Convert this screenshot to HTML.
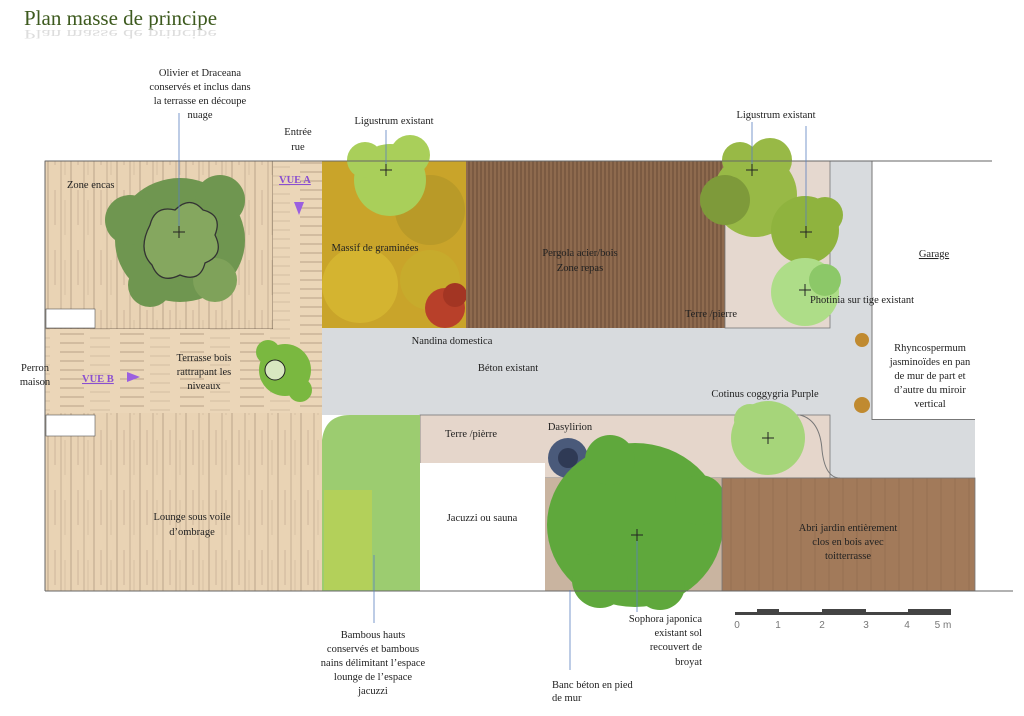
<!DOCTYPE html>
<html><head><meta charset="utf-8"><style>
html,body{margin:0;padding:0;background:#fff}
svg{display:block}
text{font-family:"Liberation Serif",serif;font-size:10.5px;fill:#222}
</style></head><body>
<svg width="1024" height="716" viewBox="0 0 1024 716" xmlns="http://www.w3.org/2000/svg">
<defs>
<pattern id="vp" width="23" height="60" patternUnits="userSpaceOnUse"><rect width="23" height="60" fill="#e9d3b4"/><line x1="2" y1="0" x2="2" y2="60" stroke="#8a735e" stroke-width="0.7" opacity="0.7"/><line x1="9" y1="10" x2="9" y2="45" stroke="#8a735e" stroke-width="0.5" opacity="0.6"/><line x1="15" y1="0" x2="15" y2="60" stroke="#8a735e" stroke-width="0.6" opacity="0.6"/><line x1="19" y1="20" x2="19" y2="55" stroke="#8a735e" stroke-width="0.4" opacity="0.5"/></pattern>
<pattern id="hp" width="60" height="9" patternUnits="userSpaceOnUse"><rect width="60" height="9" fill="#ebd6b8"/><line x1="0" y1="1" x2="24" y2="1" stroke="#8a735e" stroke-width="0.7" opacity="0.7"/><line x1="30" y1="5" x2="50" y2="5" stroke="#8a735e" stroke-width="0.5" opacity="0.5"/></pattern>
<pattern id="pg" width="4" height="40" patternUnits="userSpaceOnUse"><rect width="4" height="40" fill="#8e6a4e"/><line x1="1" y1="0" x2="1" y2="40" stroke="#5e4230" stroke-width="0.8"/></pattern>
<pattern id="ab" width="14" height="40" patternUnits="userSpaceOnUse"><rect width="14" height="40" fill="#a27a5a"/><line x1="3" y1="0" x2="3" y2="40" stroke="#8a6548" stroke-width="0.5"/></pattern>
</defs>
<text x="24" y="25" style="font-size:21px;fill:#3d5a1e">Plan masse de principe</text>
<text x="24" y="30" transform="matrix(1 0 0 -0.6 0 48)" style="font-size:21px;fill:#c8c8c8;opacity:0.6">Plan masse de principe</text>

<rect x="322" y="328" width="653" height="87" fill="#d8dbde"/>
<rect x="830" y="161" width="42" height="260" fill="#d8dbde"/>
<rect x="830" y="415" width="145" height="63" fill="#d8dbde"/>
<rect x="872" y="161" width="120" height="258" fill="#fff"/>
<rect x="872" y="419" width="103" height="1" fill="#777"/>
<line x1="872" y1="161" x2="872" y2="420" stroke="#777"/>
<rect x="45" y="161" width="228" height="168" fill="url(#vp)" stroke="#6a5a4a" stroke-width="0.8"/>
<rect x="273" y="161" width="49" height="169" fill="url(#hp)"/>
<rect x="45" y="329" width="277" height="84" fill="url(#hp)"/>
<rect x="45" y="413" width="277" height="178" fill="url(#vp)"/>
<rect x="46" y="309" width="49" height="19" fill="#fff" stroke="#555" stroke-width="0.6"/>
<rect x="46" y="415" width="49" height="21" fill="#fff" stroke="#555" stroke-width="0.6"/>

<rect x="322" y="161" width="144" height="167" fill="#c9a42a"/>
<circle cx="360" cy="285" r="38" fill="#d4b430"/><circle cx="430" cy="210" r="35" fill="#b99a28"/><circle cx="430" cy="280" r="30" fill="#c7ab2c"/>
<circle cx="445" cy="308" r="20" fill="#b8402a"/><circle cx="455" cy="295" r="12" fill="#a33523"/>
<g fill="#a9cf5a"><circle cx="390" cy="180" r="36"/><circle cx="365" cy="160" r="18"/><circle cx="410" cy="155" r="20"/></g>

<rect x="466" y="161" width="259" height="167" fill="url(#pg)"/>
<rect x="725" y="161" width="105" height="167" fill="#e5d8cf" stroke="#777" stroke-width="0.8"/>
<g fill="#98b946"><circle cx="755" cy="195" r="42"/><circle cx="725" cy="200" r="25" fill="#7e9a3a"/><circle cx="770" cy="160" r="22"/><circle cx="740" cy="160" r="18"/></g>
<g fill="#8fb33e"><circle cx="805" cy="230" r="34"/><circle cx="825" cy="215" r="18"/></g>
<g fill="#aedd88"><circle cx="805" cy="292" r="34"/><circle cx="825" cy="280" r="16" fill="#8cc868"/></g>

<rect x="420" y="415" width="410" height="63" fill="#e5d6cb" stroke="#777" stroke-width="0.8"/>
<path d="M800 415 Q820 420 822 450 Q825 478 840 478" fill="none" stroke="#777"/>
<g fill="#a6d57a"><circle cx="768" cy="438" r="37"/><circle cx="750" cy="420" r="16"/></g>

<path d="M322 591 L322 440 Q325 415 350 415 L420 415 L420 591Z" fill="#9ccc70"/>
<rect x="324" y="490" width="48" height="100" fill="#b3d05a"/>
<rect x="420" y="463" width="125" height="128" fill="#fff"/>
<rect x="545" y="478" width="177" height="113" fill="#c9b4a0"/>
<circle cx="568" cy="458" r="20" fill="#4a5a7a"/><circle cx="568" cy="458" r="10" fill="#2f3a55"/>
<g fill="#5fa83c"><ellipse cx="635" cy="525" rx="88" ry="82"/><circle cx="600" cy="580" r="28"/><circle cx="660" cy="585" r="25"/><circle cx="700" cy="500" r="25"/><circle cx="610" cy="460" r="25"/></g>
<rect x="722" y="478" width="253" height="113" fill="url(#ab)" stroke="#777" stroke-width="0.8"/>

<g fill="#6f9650"><ellipse cx="180" cy="240" rx="65" ry="62"/><circle cx="130" cy="220" r="25"/><circle cx="220" cy="200" r="25"/><circle cx="150" cy="285" r="22"/><circle cx="215" cy="280" r="22" fill="#7fa25a"/></g>
<path d="M150 225 q5-20 25-15 q15-15 28 0 q20 5 12 25 q10 20-10 28 q-5 20-25 12 q-20 10-28-10 q-15-15-2-40z" fill="#85a75f" stroke="#333" stroke-width="1.3"/>
<g fill="#7ab840"><circle cx="285" cy="370" r="26"/><circle cx="268" cy="352" r="12"/><circle cx="300" cy="390" r="12"/></g>
<circle cx="275" cy="370" r="10" fill="#d8e8c0" stroke="#222"/>
<circle cx="862" cy="340" r="7" fill="#c08a30"/><circle cx="862" cy="405" r="8" fill="#c08a30"/>
<line x1="45" y1="161" x2="992" y2="161" stroke="#666"/>
<line x1="45" y1="591" x2="1013" y2="591" stroke="#666"/>
<line x1="45" y1="161" x2="45" y2="591" stroke="#666"/>

<g stroke="#5a7fbf" stroke-width="0.8">
<line x1="179" y1="113" x2="179" y2="232"/><line x1="386" y1="130" x2="386" y2="170"/>
<line x1="752" y1="122" x2="752" y2="170"/><line x1="806" y1="126" x2="806" y2="232"/>
<line x1="374" y1="555" x2="374" y2="623"/><line x1="570" y1="590" x2="570" y2="670"/>
<line x1="637" y1="535" x2="637" y2="612"/>
</g>
<g stroke="#222" stroke-width="1"><path d="M173 232h12M179 226v12M380 170h12M386 164v12M746 170h12M752 164v12M800 232h12M806 226v12M631 535h12M637 529v12M762 438h12M768 432v12M799 290h12M805 284v12"/></g>
<g text-anchor="middle">
<text x="200" y="76">Olivier et Draceana</text><text x="200" y="90">conservés et inclus dans</text>
<text x="200" y="104">la terrasse en découpe</text><text x="200" y="118">nuage</text>
<text x="298" y="135">Entrée</text><text x="298" y="150">rue</text>
<text x="394" y="124">Ligustrum existant</text>
<text x="776" y="118">Ligustrum existant</text>
<text x="375" y="251">Massif de graminées</text>
<text x="580" y="256">Pergola acier/bois</text><text x="580" y="271">Zone repas</text>
<text x="934" y="257" style="text-decoration:underline">Garage</text>
<text x="862" y="303">Photinia sur tige existant</text>
<text x="711" y="317">Terre /pierre</text>
<text x="452" y="344">Nandina domestica</text>
<text x="508" y="371">Béton existant</text>
<text x="930" y="351">Rhyncospermum</text><text x="930" y="365">jasminoïdes en pan</text>
<text x="930" y="379">de mur de part et</text><text x="930" y="393">d’autre du miroir</text><text x="930" y="407">vertical</text>
<text x="765" y="397">Cotinus coggygria Purple</text>
<text x="204" y="361">Terrasse bois</text><text x="204" y="375">rattrapant les</text><text x="204" y="389">niveaux</text>
<text x="35" y="371">Perron</text><text x="35" y="385">maison</text>
<text x="471" y="437">Terre /pièrre</text>
<text x="570" y="430">Dasylirion</text>
<text x="482" y="521">Jacuzzi ou sauna</text>
<text x="192" y="520">Lounge sous voile</text><text x="192" y="535">d’ombrage</text>
<text x="848" y="531">Abri jardin entièrement</text><text x="848" y="545">clos en bois avec</text><text x="848" y="559">toitterrasse</text>
<text x="373" y="638">Bambous hauts</text><text x="373" y="652">conservés et bambous</text>
<text x="373" y="666">nains délimitant l’espace</text><text x="373" y="680">lounge de l’espace</text><text x="373" y="694">jacuzzi</text>
</g>
<text x="67" y="188">Zone encas</text>
<text x="82" y="382" style="fill:#8a4fd0;text-decoration:underline;font-weight:bold">VUE B</text>
<polygon points="127,372 140,377 127,382" fill="#9b5fe0"/>
<text x="279" y="183" style="fill:#8a4fd0;text-decoration:underline;font-weight:bold">VUE A</text>
<polygon points="294,202 304,202 299,215" fill="#9b5fe0"/>
<g text-anchor="end">
<text x="702" y="622">Sophora japonica</text><text x="702" y="636">existant sol</text>
<text x="702" y="650">recouvert de</text><text x="702" y="665">broyat</text>
</g>
<text x="552" y="688">Banc béton en pied</text><text x="552" y="701">de mur</text>
<rect x="735" y="612" width="216" height="3" fill="#444"/>
<rect x="757" y="609" width="22" height="6" fill="#444"/>
<rect x="822" y="609" width="44" height="6" fill="#444"/>
<rect x="908" y="609" width="43" height="6" fill="#444"/>
<g text-anchor="middle" style="font-family:'Liberation Sans',sans-serif">
<text x="737" y="628" style="font-family:'Liberation Sans',sans-serif;font-size:10px;fill:#777">0</text>
<text x="778" y="628" style="font-family:'Liberation Sans',sans-serif;font-size:10px;fill:#777">1</text>
<text x="822" y="628" style="font-family:'Liberation Sans',sans-serif;font-size:10px;fill:#777">2</text>
<text x="866" y="628" style="font-family:'Liberation Sans',sans-serif;font-size:10px;fill:#777">3</text>
<text x="907" y="628" style="font-family:'Liberation Sans',sans-serif;font-size:10px;fill:#777">4</text>
<text x="943" y="628" style="font-family:'Liberation Sans',sans-serif;font-size:10px;fill:#777">5 m</text>
</g>
</svg>
</body></html>
